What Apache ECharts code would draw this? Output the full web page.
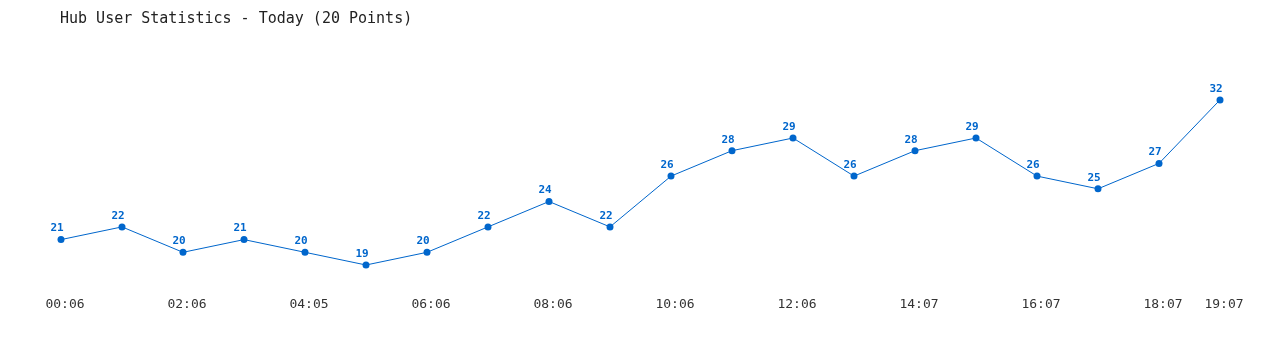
<!DOCTYPE html>
<html>
<head>
<meta charset="utf-8">
<script src="https://cdn.jsdelivr.net/npm/echarts@6/dist/echarts.min.js"></script>
<style>html,body{margin:0;padding:0;background:#fff;}#chart{width:1280px;height:350px;}</style>
</head>
<body>
<div id="chart"></div>
<script>
const categories = ["00:06","01:06","02:06","03:06","04:05","05:06","06:06","07:06","08:06","09:06","10:06","11:06","12:06","13:07","14:07","15:07","16:07","17:07","18:07","19:07"];
const users = [21,22,20,21,20,19,20,22,24,22,26,28,29,26,28,29,26,25,27,32];
const titleText = "Hub User Statistics - Today (20 Points)";

const chart = echarts.init(document.getElementById('chart'), null, {renderer:'canvas'});
chart.setOption({
  backgroundColor:'#ffffff',
  animation:false,
  title:{text:titleText, left:55, top:7,
    textStyle:{fontFamily:'DejaVu Sans Mono', fontSize:15, fontWeight:'normal', color:'#222'}},
  grid:{left:61, right:60, top:87.2, bottom:59.6},
  xAxis:{type:'category', data:categories, boundaryGap:false,
    axisLine:{show:false}, axisTick:{show:false}, splitLine:{show:false},
    axisLabel:{interval:function(i){return i%2===0 || i===categories.length-1;},
      margin:8, padding:[0,0,0,8], fontFamily:'DejaVu Sans Mono', fontSize:13, color:'#333'}},
  yAxis:{type:'value', min:17, max:33, show:false, splitLine:{show:false}},
  series:[{type:'line', data:users, symbol:'circle', symbolSize:7,
    lineStyle:{color:'#0066cc', width:1}, itemStyle:{color:'#0066cc'},
    label:{show:true, position:'top', distance:2, offset:[-4,0], color:'#0066cc',
      fontFamily:'DejaVu Sans Mono', fontWeight:'bold', fontSize:11}}]
});
</script>
</body>
</html>
